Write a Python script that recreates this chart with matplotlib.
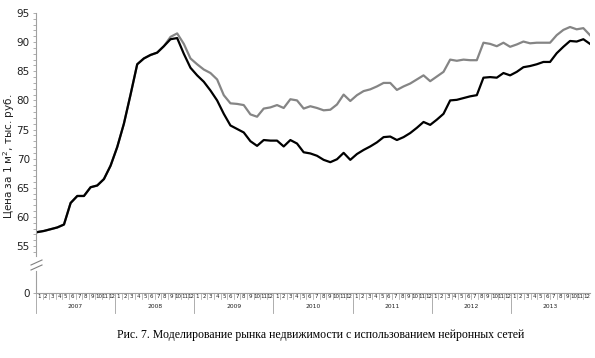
import matplotlib
matplotlib.use("Agg")
import matplotlib.pyplot as plt
from matplotlib.lines import Line2D

years = ["2007", "2008", "2009", "2010", "2011", "2012", "2013"]
months = [str(m) for m in range(1, 13)]

# Actual prices (gray), thousand rub per m2, monthly Jan 2007 - Dec 2013
actual = [
    57.4, 57.6, 57.9, 58.2, 58.7, 62.4, 63.6, 63.6, 65.1, 65.4, 66.5, 68.8,
    72.0, 76.0, 81.0, 86.2, 87.2, 87.8, 88.2, 89.3, 90.9, 91.5, 89.7, 87.2,
    86.2, 85.3, 84.7, 83.6, 80.9, 79.5, 79.4, 79.2, 77.6, 77.2, 78.6, 78.8,
    79.2, 78.7, 80.2, 80.0, 78.6, 79.0, 78.7, 78.3, 78.4, 79.3, 81.0, 79.9,
    80.9, 81.6, 81.9, 82.4, 83.0, 83.0, 81.8, 82.4, 82.9, 83.6, 84.3, 83.3,
    84.1, 84.9, 87.0, 86.8, 87.0, 86.9, 86.9, 89.9, 89.7, 89.3, 89.9, 89.2,
    89.6, 90.1, 89.8, 89.9, 89.9, 89.9, 91.2, 92.1, 92.6, 92.2, 92.4, 91.2,
]
# Model prices (black)
model = [
    57.4, 57.6, 57.9, 58.2, 58.7, 62.4, 63.6, 63.6, 65.1, 65.4, 66.5, 68.8,
    72.0, 76.0, 81.0, 86.2, 87.2, 87.8, 88.2, 89.3, 90.5, 90.7, 88.0, 85.6,
    84.3, 83.2, 81.7, 80.0, 77.7, 75.7, 75.1, 74.5, 73.0, 72.2, 73.2, 73.1,
    73.1, 72.1, 73.2, 72.6, 71.1, 70.9, 70.5, 69.8, 69.4, 69.9, 71.0, 69.8,
    70.8, 71.5, 72.1, 72.8, 73.7, 73.8, 73.2, 73.7, 74.4, 75.3, 76.3, 75.8,
    76.7, 77.7, 80.0, 80.1, 80.4, 80.7, 80.9, 83.9, 84.0, 83.9, 84.7, 84.3,
    84.9, 85.7, 85.9, 86.2, 86.6, 86.6, 88.1, 89.2, 90.2, 90.1, 90.5, 89.7,
]

W, H = 595, 358
fig = plt.figure(figsize=(W / 100, H / 100), dpi=100)

def box(x0, y0, x1, y1):
    return [x0 / W, 1 - y1 / H, (x1 - x0) / W, (y1 - y0) / H]

axis_col = "#a0a0a0"
text_col = "#202020"

# Upper axes (55 - 95)
ax = fig.add_axes(box(36, 13, 590, 256))
n = len(actual)
xs = list(range(n))
ax.plot(xs, actual, color="#858585", lw=1.6, solid_joinstyle="round")
ax.plot(xs, model, color="#000000", lw=1.6, solid_joinstyle="round")
ax.set_xlim(-0.2, n - 1)
ax.set_ylim(53.3, 95)
for s in ["top", "right", "bottom"]:
    ax.spines[s].set_visible(False)
ax.spines["left"].set_color(axis_col)
ax.spines["left"].set_linewidth(0.8)
ax.set_xticks([])
ax.set_yticks(range(55, 96, 5))
ax.set_yticks(range(54, 96, 1), minor=True)
ax.tick_params(axis="y", which="both", direction="out", length=2.5, width=0.6,
               color=axis_col, labelsize=7.5, labelcolor=text_col, pad=2)
ax.set_ylabel("Цена за 1 м$^2$, тыс. руб.", fontsize=7.5, color=text_col)
ax.yaxis.set_label_coords(-0.034, 0.41)

# Lower axes (0)
axb = fig.add_axes(box(36, 271, 590, 293))
axb.set_xlim(0, 84)
axb.set_ylim(0, 4)
for s in ["top", "right"]:
    axb.spines[s].set_visible(False)
for s in ["left", "bottom"]:
    axb.spines[s].set_color(axis_col)
    axb.spines[s].set_linewidth(0.8)
axb.set_yticks([0])
axb.set_xticks([])
axb.tick_params(axis="y", which="both", direction="out", length=2.5, width=0.6,
                color=axis_col, labelsize=7.5, labelcolor=text_col, pad=2)

# break marks
for yb in (262, 267):
    fig.add_artist(Line2D([31 / W, 42 / W], [1 - (yb + 3) / H, 1 - (yb - 2) / H],
                          color="#808080", lw=0.8))

# category axis (months / years)
axc = fig.add_axes(box(36, 293, 590, 318))
axc.set_xlim(0, 84)
axc.set_ylim(25, 0)
axc.axis("off")
for yi, yr in enumerate(years):
    for mi, m in enumerate(months):
        k = yi * 12 + mi
        axc.text(k + 0.5, 3.2, m, ha="center", va="center", fontsize=4.0, color=text_col)
        if mi > 0:
            axc.plot([k, k], [0, 6], color=axis_col, lw=0.5)
    axc.plot([yi * 12, yi * 12], [0, 20], color=axis_col, lw=0.6)
    axc.text(yi * 12 + 6, 13, yr, ha="center", va="center", fontsize=4.3, color=text_col)
axc.plot([84, 84], [0, 20], color=axis_col, lw=0.6)

fig.text(321 / W, 1 - 335 / H,
         "Рис. 7. Моделирование рынка недвижимости с использованием нейронных сетей",
         ha="center", va="center", fontsize=8.5, family="Liberation Serif", color="#000000")

fig.savefig("out.png", dpi=100)
